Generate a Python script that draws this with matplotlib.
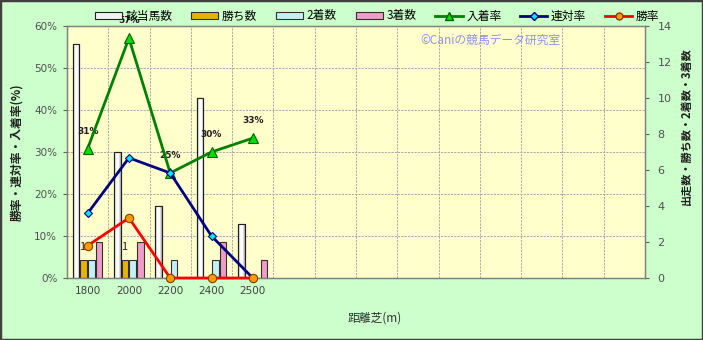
import matplotlib
matplotlib.use("Agg")
import matplotlib.pyplot as plt
from matplotlib.patches import Patch, Rectangle
from matplotlib.lines import Line2D
from matplotlib.colors import LinearSegmentedColormap
import numpy as np

plt.rcParams['font.family'] = ['Noto Sans CJK JP', 'DejaVu Sans']

# ---- data ----
categories = ["1800", "2000", "2200", "2400", "2500"]
n_slots = 14
runners = [13, 7, 4, 10, 3]
wins = [1, 1, 0, 0, 0]
seconds = [1, 1, 1, 1, 0]
thirds = [2, 2, 0, 2, 1]
place_rate = [30.8, 57.1, 25.0, 30.0, 33.3]
rentai_rate = [15.4, 28.6, 25.0, 10.0, 0.0]
win_rate = [7.7, 14.3, 0.0, 0.0, 0.0]
place_labels = ["31%", "57%", "25%", "30%", "33%"]
win_count_labels = ["1", "1", "", "", ""]

BG = '#CCFFCC'
PLOT_BG = '#FFFFCC'

fig = plt.figure(figsize=(7.03, 3.40), dpi=100, facecolor=BG)
L, R, B, T = 67/703, 645/703, 1-278/340, 1-26/340
ax2 = fig.add_axes([L, B, R-L, T-B])  # counts (right axis), bars
ax1 = ax2.twinx()                      # rates (left axis), lines
ax1.yaxis.tick_left(); ax1.yaxis.set_label_position('left')
ax2.yaxis.tick_right(); ax2.yaxis.set_label_position('right')
ax1.set_zorder(ax2.get_zorder() + 1)
ax1.patch.set_visible(False)
ax2.set_facecolor(PLOT_BG)

x = np.arange(len(categories))
ax2.set_xlim(-0.5, n_slots - 0.5)
ax2.set_ylim(0, 14)
ax1.set_ylim(0, 60)

# grid (drawn on bar axis, behind bars)
gkw = dict(color='#A8A8A8', lw=0.7, ls=(0, (2.2, 1.2)), zorder=0)
for k in range(1, 6):
    ax2.axhline(14 * k / 6, **gkw)
for b in np.arange(0.5, n_slots - 0.5, 1):
    ax2.axvline(b, **gkw)

w = 0.16
grad = LinearSegmentedColormap.from_list('g', ['#A0A0A0', '#FFFFFF', '#FFFFFF', '#A0A0A0'])
bars_total = ax2.bar(x - 0.28, runners, w, color='#F2F2F2', edgecolor='#202020', lw=0.8, zorder=2)
for bar in bars_total:
    x0, y0 = bar.get_x(), bar.get_y()
    bw, bh = bar.get_width(), bar.get_height()
    im = ax2.imshow(np.linspace(0, 1, 64).reshape(1, -1), cmap=grad, aspect='auto',
                    extent=(x0, x0 + bw, y0, y0 + bh), zorder=2.1, interpolation='bilinear')
    im.set_clip_path(bar)
    ax2.add_patch(Rectangle((x0, y0), bw, bh, fill=False, edgecolor='#202020', lw=0.8, zorder=2.2))
ax2.set_xlim(-0.5, n_slots - 0.5)
ax2.set_ylim(0, 14)
ax2.set_aspect('auto')
ax2.bar(x - 0.095, wins, w, color='#E6B400', edgecolor='#303030', lw=0.8, zorder=2)
ax2.bar(x + 0.09, seconds, w, color='#C4F0F4', edgecolor='#303030', lw=0.8, zorder=2)
ax2.bar(x + 0.275, thirds, w, color='#F09CC8', edgecolor='#303030', lw=0.8, zorder=2)
for xi, v, lab in zip(x, wins, win_count_labels):
    if lab:
        ax2.annotate(lab, (xi - 0.125, v), xytext=(0, 9), textcoords='offset points',
                     ha='center', va='center', fontsize=8, color='#202020')

# lines
ax1.plot(x, place_rate, color='#008000', lw=2, marker='^', ms=7,
         mfc='#00E000', mec='#006000', mew=0.8, zorder=5)
ax1.plot(x, rentai_rate, color='#000080', lw=2, marker='D', ms=4.5,
         mfc='#00E8F0', mec='#000080', mew=0.8, zorder=5)
ax1.plot(x, win_rate, color='#FF0000', lw=2, marker='o', ms=6,
         mfc='#FF9900', mec='#804000', mew=0.8, zorder=5, clip_on=False)
for xi, v, lab in zip(x, place_rate, place_labels):
    ax1.annotate(lab, (xi, v), xytext=(0, 12.5), textcoords='offset points',
                 ha='center', va='center', fontsize=6.5, fontweight='bold',
                 color='#202020', annotation_clip=False, family='DejaVu Sans')

# axes styling
ax2.set_xticks(x)
ax2.set_xticklabels(categories, fontsize=7.5, color='#404040', family='DejaVu Sans')
ax2.tick_params(axis='x', length=0, pad=6)
ax1.set_yticks(np.arange(0, 61, 10))
ax1.set_yticklabels([f"{v}%" for v in range(0, 61, 10)], fontsize=7.5,
                    color='#505050', family='DejaVu Sans')
ax1.tick_params(axis='y', length=3, color='#606060', direction='out', pad=4)
ax2.set_yticks(np.arange(0, 15, 2))
ax2.set_yticklabels([str(v) for v in range(0, 15, 2)], fontsize=8,
                    color='#505050', family='DejaVu Sans')
ax2.tick_params(axis='y', length=3, color='#606060', direction='out', pad=6)
for a in (ax1, ax2):
    for s in a.spines.values():
        s.set_color('#808080')
        s.set_linewidth(0.9)

fig.text(0.024, (B + T) / 2, "勝率・連対率・入着率(%)", rotation=90, ha='center',
         va='center', fontsize=8.5, fontweight='bold', color='#202020')
fig.text(686 / 703, 1 - 126 / 340, "出走数・勝ち数・2着数・3着数", rotation=90,
         ha='center', va='center', fontsize=8, fontweight='bold', color='#202020')
fig.text(375 / 703, 1 - 318 / 340, "距離芝(m)", ha='center', va='center',
         fontsize=8.5, color='#303030')
ax1.text(0.611, 0.944, "©Caniの競馬データ研究室", transform=ax1.transAxes,
         ha='left', va='center', fontsize=8.5, color='#9090F0', zorder=1)

# legend
handles = [
    Patch(facecolor='#F2F2F2', edgecolor='#202020', lw=0.8),
    Patch(facecolor='#E6B400', edgecolor='#303030', lw=0.8),
    Patch(facecolor='#C4F0F4', edgecolor='#303030', lw=0.8),
    Patch(facecolor='#F09CC8', edgecolor='#303030', lw=0.8),
    Line2D([], [], color='#008000', lw=2, marker='^', ms=6, mfc='#00E000', mec='#006000'),
    Line2D([], [], color='#000080', lw=2, marker='D', ms=4, mfc='#00E8F0', mec='#000080'),
    Line2D([], [], color='#FF0000', lw=2, marker='o', ms=5, mfc='#FF9900', mec='#804000'),
]
labels = ["該当馬数", "勝ち数", "2着数", "3着数", "入着率", "連対率", "勝率"]
leg = fig.legend(handles, labels, loc='center', bbox_to_anchor=(377 / 703, 1 - 16 / 340),
                 ncol=7, frameon=False, fontsize=8.5, handlelength=2.3,
                 handleheight=0.5, handletextpad=0.3, columnspacing=1.6,
                 borderaxespad=0, borderpad=0)

fig.patches.append(Rectangle((0, 0), 1, 1, transform=fig.transFigure, fill=False,
                             edgecolor='#404040', lw=2.5, zorder=10))

fig.savefig("out.png", dpi=100, facecolor=BG)
